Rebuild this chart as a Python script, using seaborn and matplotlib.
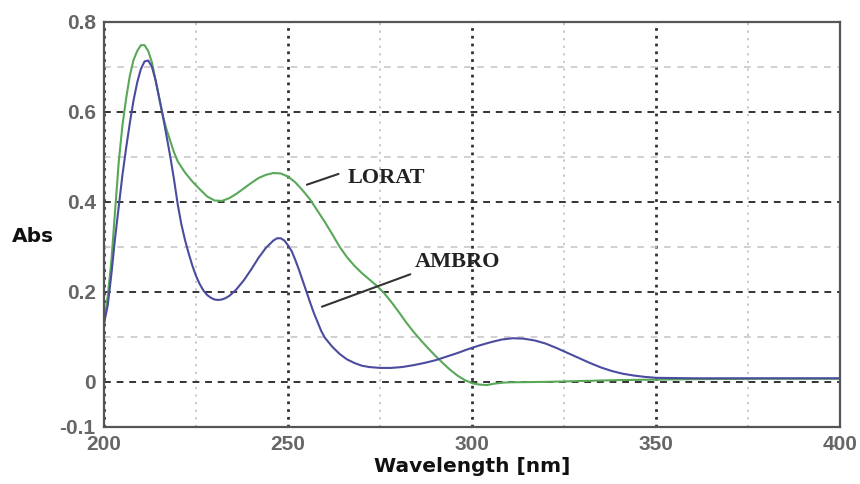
import matplotlib
matplotlib.use("Agg")
import matplotlib.pyplot as plt
import seaborn as sns
import pandas as pd
import numpy as np

# ---------------- data ----------------
lorat_wl = [200, 201, 202, 203, 204, 205, 206, 207, 208, 209, 210, 211, 212, 213, 214, 215,
            216, 217, 218, 219, 220, 222, 224, 226, 228, 230, 232, 234, 236, 238, 240, 242,
            244, 246, 248, 250, 252, 254, 256, 258, 260, 262, 264, 266, 268, 270, 272, 274,
            276, 278, 280, 282, 284, 286, 288, 290, 292, 294, 296, 298, 300, 302, 304, 306,
            308, 310, 320, 330, 340, 350, 360, 380, 400]
lorat_abs = [0.13, 0.19, 0.27, 0.38, 0.49, 0.57, 0.63, 0.68, 0.715, 0.735, 0.748, 0.748, 0.735,
             0.71, 0.67, 0.63, 0.59, 0.56, 0.535, 0.51, 0.49, 0.465, 0.445, 0.428, 0.412, 0.403,
             0.402, 0.408, 0.418, 0.43, 0.442, 0.453, 0.46, 0.464, 0.463, 0.456, 0.443, 0.425,
             0.405, 0.38, 0.355, 0.328, 0.30, 0.277, 0.258, 0.242, 0.228, 0.214, 0.198, 0.178,
             0.156, 0.133, 0.112, 0.093, 0.075, 0.058, 0.042, 0.027, 0.014, 0.004, -0.003,
             -0.006, -0.007, -0.004, -0.002, -0.001, 0.0, 0.002, 0.004, 0.005, 0.006, 0.007, 0.007]

ambro_wl = [200, 201, 202, 203, 204, 205, 206, 207, 208, 209, 210, 211, 212, 213, 214, 215,
            216, 217, 218, 219, 220, 221, 222, 223, 224, 225, 226, 227, 228, 229, 230, 231,
            232, 233, 234, 235, 236, 238, 240, 242, 244, 246, 247, 248, 249, 250, 251, 252,
            253, 254, 255, 256, 257, 258, 259, 260, 262, 264, 266, 268, 270, 272, 275, 278,
            281, 284, 287, 290, 293, 296, 299, 302, 305, 308, 311, 314, 317, 320, 323, 326,
            329, 332, 335, 338, 341, 344, 347, 350, 360, 375, 400]
ambro_abs = [0.13, 0.17, 0.24, 0.32, 0.39, 0.46, 0.52, 0.575, 0.625, 0.665, 0.695, 0.712, 0.714,
             0.70, 0.67, 0.63, 0.59, 0.545, 0.50, 0.45, 0.395, 0.35, 0.315, 0.285, 0.258, 0.235,
             0.217, 0.203, 0.193, 0.187, 0.183, 0.182, 0.183, 0.186, 0.191, 0.198, 0.206, 0.226,
             0.25, 0.276, 0.298, 0.314, 0.319, 0.319, 0.314, 0.303, 0.29, 0.27, 0.248, 0.224,
             0.2, 0.176, 0.153, 0.133, 0.113, 0.098, 0.078, 0.062, 0.05, 0.042, 0.036, 0.033,
             0.031, 0.031, 0.033, 0.037, 0.042, 0.048, 0.056, 0.064, 0.073, 0.081, 0.088, 0.094,
             0.097, 0.096, 0.092, 0.085, 0.075, 0.064, 0.053, 0.042, 0.032, 0.024, 0.018, 0.014,
             0.011, 0.009, 0.008, 0.008, 0.008]

x_ticks = [200, 250, 300, 350, 400]
x_tick_labels = ["200", "250", "300", "350", "400"]
y_ticks = [-0.1, 0, 0.2, 0.4, 0.6, 0.8]
y_tick_labels = ["-0.1", "0", "0.2", "0.4", "0.6", "0.8"]

# annotation leader lines (start near curve, end near label) and label anchors
lorat_leader = [(255.1, 0.438), (263.7, 0.462)]
lorat_label_pos = (266.3, 0.453)
ambro_leader = [(259.2, 0.167), (283.2, 0.239)]
ambro_label_pos = (284.5, 0.267)

df = pd.concat([
    pd.DataFrame({"Wavelength": lorat_wl, "Abs": lorat_abs, "compound": "LORAT"}),
    pd.DataFrame({"Wavelength": ambro_wl, "Abs": ambro_abs, "compound": "AMBRO"}),
], ignore_index=True)

# ---------------- style ----------------
sns.set_style("white")
plt.rcParams["font.family"] = ["DejaVu Sans"]

fig, ax = plt.subplots(figsize=(8.6, 4.84), dpi=100)
fig.subplots_adjust(left=0.121, right=0.977, bottom=0.118, top=0.955)

palette = {"LORAT": "#58a858", "AMBRO": "#4b4b9f"}
sns.lineplot(data=df, x="Wavelength", y="Abs", hue="compound", palette=palette,
             legend=False, ax=ax, linewidth=1.5, estimator=None, zorder=3)

ax.set_xlim(200, 400)
ax.set_ylim(-0.1, 0.8)
ax.set_xticks(x_ticks, x_tick_labels)
ax.set_xticks([225, 275, 325, 375], minor=True)
ax.set_yticks(y_ticks, y_tick_labels)
ax.set_yticks([0.1, 0.3, 0.5, 0.7], minor=True)

ax.set_axisbelow(True)
ax.grid(which="minor", axis="x", linestyle=(0, (1.2, 3)), color="#c4c4c4", linewidth=1.3)
ax.grid(which="minor", axis="y", linestyle=(0, (4, 4)), color="#c8c8c8", linewidth=1.2)
ax.grid(which="major", axis="x", linestyle=(0, (1, 1.8)), color="#333333", linewidth=2.0)
ax.grid(which="major", axis="y", linestyle=(0, (3.5, 3)), color="#333333", linewidth=1.4)

for s in ax.spines.values():
    s.set_color("#555555")
    s.set_linewidth(1.6)
    s.set_zorder(4)

ax.tick_params(which="both", direction="in", length=7, width=1.5, color="#444444",
               top=False, right=False)
for lab in ax.get_xticklabels() + ax.get_yticklabels():
    lab.set_fontfamily("Liberation Sans")
    lab.set_fontsize(15)
    lab.set_fontweight("bold")
    lab.set_color("#666666")
ax.tick_params(axis="x", pad=6)
ax.tick_params(axis="y", pad=6)

ax.set_xlabel("Wavelength [nm]", fontsize=14.5, fontweight="bold", color="#111111",
              va="center")
ax.xaxis.set_label_coords(0.5, -0.099)
ax.set_ylabel("Abs", fontsize=14.5, fontweight="bold", color="#111111", rotation=0,
              ha="center", va="center")
ax.yaxis.set_label_coords(-0.096, 0.469)

for leader in (lorat_leader, ambro_leader):
    ax.annotate("", xy=leader[0], xytext=leader[1],
                arrowprops=dict(arrowstyle="-", color="#333333", lw=1.5,
                                shrinkA=0, shrinkB=0), zorder=5)
ax.text(*lorat_label_pos, "LORAT", fontfamily="Liberation Serif", fontweight="bold",
        fontsize=16, color="#222222", ha="left", va="center", zorder=5)
ax.text(*ambro_label_pos, "AMBRO", fontfamily="Liberation Serif", fontweight="bold",
        fontsize=16, color="#222222", ha="left", va="center", zorder=5)

fig.savefig("out.png", dpi=100)
